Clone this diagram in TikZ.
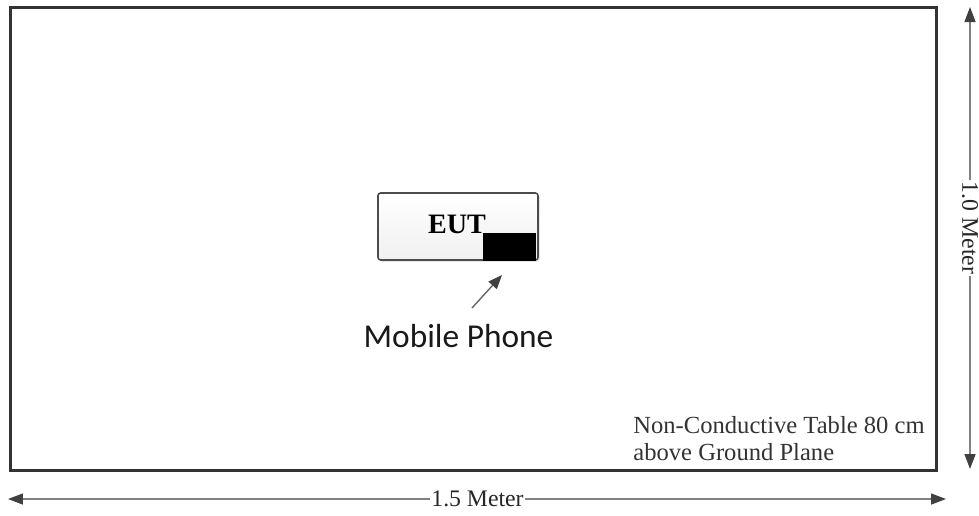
\documentclass[tikz,border=0pt]{standalone}
\usepackage{fontspec}
\setmainfont{Liberation Serif}
\newfontfamily\phonefont{Carlito}
\usetikzlibrary{arrows.meta}
\usetikzlibrary{shadows}

\tikzset{
  dimline/.style={draw=black!50, line width=0.8pt,
    {Triangle[length=0.3cm,width=0.22cm,color=black!75]}-{Triangle[length=0.3cm,width=0.22cm,color=black!75]}},
  dimlabel/.style={fill=white, inner sep=1pt, text=black!85, font=\fontsize{13.5}{15}\selectfont},
  pointer/.style={draw=black!60, line width=0.8pt, -{Triangle[length=0.28cm,width=0.22cm,color=black!75]}}
}

\begin{document}
\begin{tikzpicture}[x=0.02cm,y=-0.02cm]
    \path[use as bounding box] (0,0) rectangle (979,515);
    % Table.
    \node[draw=black!80, line width=1.7pt, inner sep=0pt, outer sep=0pt,
      minimum width=18.54cm, minimum height=9.27cm] (table) at (473.5,239.25) {};
    \node[anchor=north west, inner sep=0pt, align=left, text=black!80,
      font=\fontsize{14}{15.3}\selectfont] (tablenote) at (633,416)
      {Non-Conductive Table 80 cm\\above Ground Plane};
    % Dimensions.
    \coordinate (wleft) at (8,499);
    \coordinate (wright) at (946,499);
    \draw[dimline] (wleft) -- (wright);
    \node[dimlabel] (width) at (477.5,499) {1.5 Meter};
    \coordinate (htop) at (970,7);
    \coordinate (hbottom) at (970,469);
    \draw[dimline] (htop) -- (hbottom);
    \node[dimlabel, rotate=-90] (height) at (970,228) {1.0 Meter};
    % EUT.
    \node[draw=black!70, line width=0.9pt, rounded corners=1.5pt, top color=white,
      bottom color=black!6, minimum width=3.2cm, minimum height=1.34cm,
      drop shadow={shadow xshift=1pt, shadow yshift=-1pt, opacity=0.2}] (eut) at (458,226.5) {};
    \node[fill=black, inner sep=0pt, minimum width=1.06cm, minimum height=0.56cm] (phone) at (509.5,247) {};
    \node[inner sep=0pt, font=\fontsize{16}{18}\selectfont\bfseries] (eutlabel) at (457,224.5) {EUT};
    % Mobile phone.
    \node[anchor=base, inner sep=0pt, text=black!90, font=\phonefont\fontsize{19}{22}\selectfont] (mobile) at (458.5,347) {Mobile Phone};
    \coordinate (tail) at (472,308);
    \coordinate (head) at (502,275);
    \draw[pointer] (tail) -- (head);
\end{tikzpicture}
\end{document}
